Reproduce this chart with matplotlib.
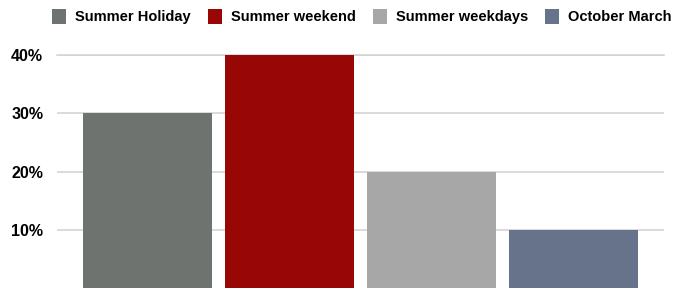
import matplotlib
matplotlib.use("Agg")
import matplotlib.pyplot as plt
from matplotlib.patches import Patch

categories = ["Summer Holiday", "Summer weekend", "Summer weekdays", "October March"]
values = [0.30, 0.40, 0.20, 0.10]
colors = ["#6e7370", "#990606", "#a7a7a7", "#66738a"]
yticks = [0.10, 0.20, 0.30, 0.40]
ytick_labels = ["10%", "20%", "30%", "40%"]

font = "Liberation Sans"

fig = plt.figure(figsize=(6.73, 2.88), dpi=100)
ax = fig.add_axes([57/673, 0, 607/673, 233/288])
x = list(range(len(categories)))
ax.bar(x, values, width=0.908, color=colors, zorder=2)
ax.set_xlim(-0.637, 3.637)
ax.set_ylim(0, 0.40)
ax.set_yticks(yticks)
ax.set_yticklabels(ytick_labels, fontsize=11.5, fontweight="bold", family=font)
ax.yaxis.grid(True, color="#d4d4d4", linewidth=1.2, zorder=0)
ax.set_xticks([])
ax.tick_params(axis="y", length=0, pad=10)
for s in ax.spines.values():
    s.set_visible(False)
ax.axhline(0.40, color="#d4d4d4", linewidth=1.2, zorder=0, clip_on=False)

handles = [Patch(facecolor=c, edgecolor="none") for c in colors]
leg = fig.legend(handles, categories, loc="center", bbox_to_anchor=(362/673, 1 - 16.5/288),
                 ncol=4, frameon=False, handlelength=0.95, handleheight=1.25,
                 handletextpad=0.6, columnspacing=1.2,
                 prop={"family": font, "weight": "bold", "size": 10.5})
fig.savefig("out.png", dpi=100)
